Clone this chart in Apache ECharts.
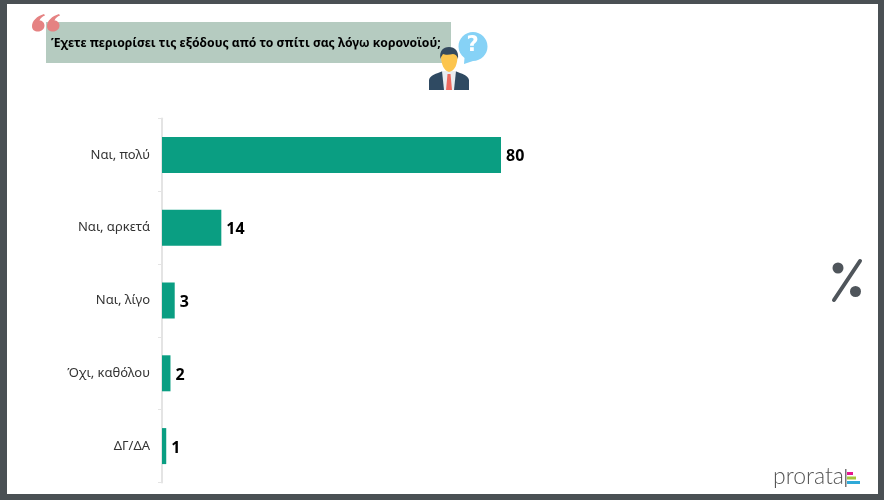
<!DOCTYPE html>
<html>
<head>
<meta charset="utf-8">
<style>html,body{margin:0;padding:0;background:#4a5054}#chart{width:884px;height:500px}</style>
<script src="https://cdn.jsdelivr.net/npm/echarts@6/dist/echarts.min.js"></script>
</head>
<body>
<div id="chart"></div>
<script>
const questionText = 'Έχετε περιορίσει τις εξόδους από το σπίτι σας λόγω κορονοϊού;';
const categories = ['Ναι, πολύ', 'Ναι, αρκετά', 'Ναι, λίγο', 'Όχι, καθόλου', 'ΔΓ/ΔΑ'];
const percentages = [80, 14, 3, 2, 1];
const brandName = 'prorata';

// Decorative outlines, registered as named shapes for the graphic component
const decorPaths = {
  quoteMark: 'M12 0 C5 2 0 7 0 12 C0 16 2.5 17.5 6 17.5 C9.5 17.5 12.5 15 12.5 11.5 C12.5 8.5 10 6.5 7.5 6.5 C8.5 4 10.5 2.5 13 1.5 Z',
  bubble: 'M473 32 C481 32 487.5 38.5 487.5 46.5 C487.5 54.5 481 61 473 61 L464 64 L464.5 58 C460.5 55 458.5 51 458.5 46.5 C458.5 38.5 465 32 473 32 Z',
  jacket: 'M429 90 L429 80 C430 75 436 74 443 71 L455 71 C462 74 468 75 469 80 L469 90 Z',
  face: 'M441 56 C441 51 445 50 449 50 C453 50 457.5 51 457.5 56 C457.5 64 455 71 449 72 C444 71 441 64 441 56 Z',
  hair: 'M440.5 59 C439 51 443 47 449 47 C455 47 459 51 458 59 C457 56 456 54.5 453 54 C449 55 445 55 443 54 C442 55.5 441 57 440.5 59 Z'
};
Object.keys(decorPaths).forEach(function (name) {
  echarts.graphic.registerShape(name, echarts.graphic.extendPath(decorPaths[name], {}));
});

const chart = echarts.init(document.getElementById('chart'), null, { renderer: 'canvas' });
chart.setOption({
  animation: false,
  backgroundColor: '#4a5054',
  grid: { left: 162, top: 118.5, width: 423.75, height: 364, containLabel: false },
  xAxis: { type: 'value', min: 0, max: 100, show: false },
  yAxis: {
    type: 'category',
    inverse: true,
    data: categories,
    axisLine: { lineStyle: { color: '#e4e4e4', width: 2 } },
    axisTick: { show: true, length: 4, lineStyle: { color: '#e4e4e4' } },
    axisLabel: { margin: 12, color: '#333', fontSize: 13, fontFamily: 'Noto Sans', padding: [3, 0, 0, 0] }
  },
  series: [{
    type: 'bar',
    data: percentages,
    barWidth: 36,
    z: 3,
    itemStyle: { color: '#0a9e82' },
    label: {
      show: true,
      position: 'right',
      distance: 5,
      offset: [0, 2],
      color: '#000',
      fontSize: 16,
      fontWeight: 'bold',
      fontFamily: 'Noto Sans'
    }
  }],
  graphic: { elements: [
    // Page sheet inside the dark frame
    { type: 'rect', z: -10, silent: true, shape: { x: 7, y: 4, width: 871, height: 490 }, style: { fill: '#fff' } },

    // Question banner
    { type: 'rect', z: 1, shape: { x: 46, y: 22, width: 405, height: 41 }, style: { fill: '#b5cbc0' } },
    { type: 'text', z: 2, style: { x: 51, y: 44, text: questionText, fill: '#000', font: 'bold 12.2px "Noto Sans"', textAlign: 'left', textVerticalAlign: 'middle' } },
    { type: 'quoteMark', z: 3, x: 32, y: 14, style: { fill: '#e58282' } },
    { type: 'quoteMark', z: 3, x: 47, y: 14, style: { fill: '#e58282' } },

    // Speech bubble with question mark
    { type: 'bubble', z: 4, style: { fill: '#86d2f6' } },
    { type: 'text', z: 5, style: { x: 472.5, y: 46, text: '?', fill: '#fff', font: 'bold 21px "DejaVu Sans"', textAlign: 'center', textVerticalAlign: 'middle' } },

    // Man in a suit
    { type: 'jacket', z: 4, style: { fill: '#2f4a62' } },
    { type: 'polygon', z: 5, shape: { points: [[442, 71], [456, 71], [454, 90], [444, 90]] }, style: { fill: '#e9edf0' } },
    { type: 'polygon', z: 6, shape: { points: [[447.5, 74], [450.5, 74], [452, 90], [446, 90]] }, style: { fill: '#ee6a5f' } },
    { type: 'face', z: 5, style: { fill: '#fcc54e' } },
    { type: 'hair', z: 6, style: { fill: '#34495e' } },

    // Unit mark
    { type: 'line', z: 3, shape: { x1: 860, y1: 261, x2: 834, y2: 300 }, style: { stroke: '#4f555b', lineWidth: 4, lineCap: 'round' } },
    { type: 'circle', z: 3, shape: { cx: 838, cy: 268, r: 5.5 }, style: { fill: '#4f555b' } },
    { type: 'circle', z: 3, shape: { cx: 855.5, cy: 291.5, r: 5.5 }, style: { fill: '#4f555b' } },

    // Brand mark
    { type: 'text', z: 3, style: { x: 773, y: 477, text: brandName, fill: '#555', font: '300 23px Lato', textAlign: 'left', textVerticalAlign: 'middle' } },
    { type: 'rect', z: 3, shape: { x: 845, y: 469, width: 1.5, height: 18 }, style: { fill: '#777' } },
    { type: 'rect', z: 3, shape: { x: 847, y: 472, width: 6, height: 3 }, style: { fill: '#e6178f' } },
    { type: 'rect', z: 3, shape: { x: 847, y: 476.5, width: 9, height: 3 }, style: { fill: '#a5c63b' } },
    { type: 'rect', z: 3, shape: { x: 847, y: 481, width: 13, height: 3 }, style: { fill: '#2fa9d8' } }
  ] }
});
</script>
</body>
</html>
